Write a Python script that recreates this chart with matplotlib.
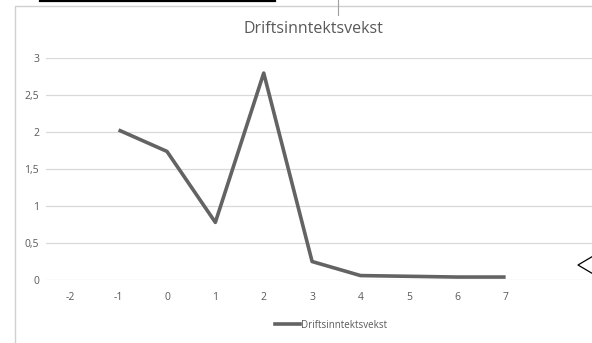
import numpy as np
import matplotlib
matplotlib.use("Agg")
import matplotlib.pyplot as plt
from matplotlib.ticker import FuncFormatter
from matplotlib.lines import Line2D

# data
categories = ["-2", "-1", "0", "1", "2", "3", "4", "5", "6", "7"]
vekst = [np.nan, 2.03, 1.74, 0.78, 2.80, 0.25, 0.06, 0.05, 0.04, 0.04]
yticks = [0, 0.5, 1, 1.5, 2, 2.5, 3]

plt.rcParams['font.family'] = ['Open Sans', 'DejaVu Sans']

W, H = 592, 343
fig = plt.figure(figsize=(W / 100, H / 100), dpi=100)

# chart area border (screenshot is cut on right/bottom)
fig.add_artist(Line2D([15 / W, 15 / W, 1], [0, 1 - 5.5 / H, 1 - 5.5 / H], transform=fig.transFigure,
                      color="#d0d0d0", linewidth=1))
# bits of the surrounding screenshot
fig.add_artist(Line2D([40 / W, 275 / W], [1 - 0.8 / H, 1 - 0.8 / H], transform=fig.transFigure,
                      color="black", linewidth=1.6))
fig.add_artist(Line2D([338 / W, 338 / W], [1, 1 - 15 / H], transform=fig.transFigure,
                      color="#a0a0a0", linewidth=0.8))
fig.add_artist(Line2D([600 / W, 578 / W, 600 / W], [1 - 252 / H, 1 - 265 / H, 1 - 278 / H],
                      transform=fig.transFigure, color="black", linewidth=0.9))

left, right = 46 / W, 1.0
bottom, top = 1 - 280 / H, 1 - 58.3 / H
ax = fig.add_axes([left, bottom, right - left, top - bottom])

x = np.arange(len(categories))
ax.plot(x, vekst, color="#636363", linewidth=2.6, solid_capstyle="butt",
        label="Driftsinntektsvekst")

ax.set_ylim(0, 3)
ax.set_xlim(-0.5, (592 - 70) / 48.4)
ax.set_yticks(yticks)
ax.yaxis.set_major_formatter(FuncFormatter(lambda v, p: ("%g" % v).replace(".", ",")))
ax.set_xticks(x)
ax.set_xticklabels(categories)
ax.tick_params(length=0, labelsize=7.5, labelcolor="#595959")
ax.tick_params(axis="y", pad=5)
ax.tick_params(axis="x", pad=9)
ax.grid(axis="y", color="#d9d9d9", linewidth=0.9)
ax.set_axisbelow(True)
for s in ax.spines.values():
    s.set_visible(False)

fig.text(313 / W, 1 - 29 / H, "Driftsinntektsvekst", ha="center", va="center",
         fontsize=11.5, color="#595959")

handle = Line2D([], [], color="#636363", linewidth=2.6)
fig.legend([handle], ["Driftsinntektsvekst"], loc="center", bbox_to_anchor=(331 / W, 1 - 325 / H),
           frameon=False, fontsize=7, labelcolor="#595959", handlelength=2.6, handletextpad=0.1)

fig.savefig("out.png", dpi=100)
